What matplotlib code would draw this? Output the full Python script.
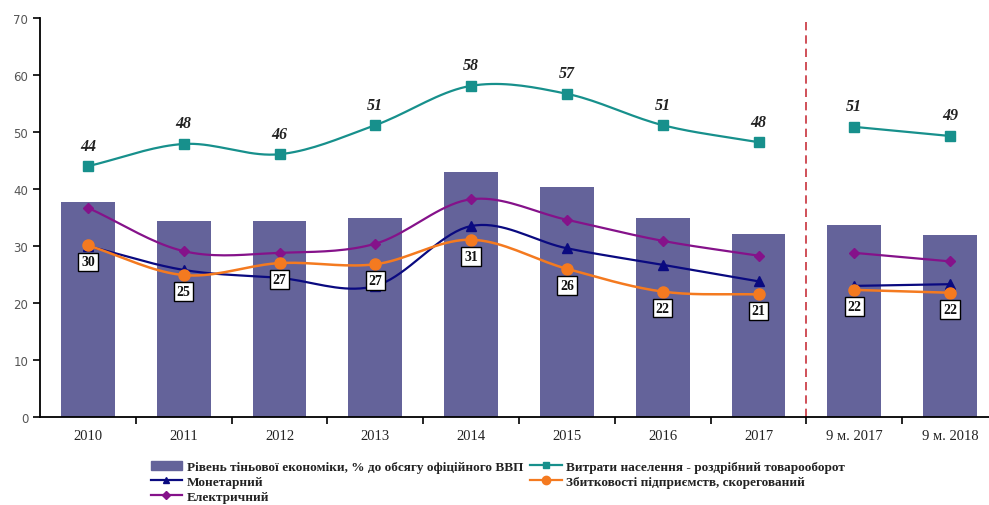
import numpy as np
import matplotlib.pyplot as plt
from matplotlib.lines import Line2D
from matplotlib.patches import Patch

categories = ['2010', '2011', '2012', '2013', '2014', '2015', '2016', '2017', '9 м. 2017', '9 м. 2018']
shadow = [37.7, 34.4, 34.4, 35.0, 43.0, 40.3, 35.0, 32.1, 33.6, 31.9]
spending = [44.0, 47.9, 46.1, 51.2, 58.1, 56.7, 51.2, 48.2, 50.9, 49.3]
spending_lbl = [44, 48, 46, 51, 58, 57, 51, 48, 51, 49]
monetary = [30.0, 25.8, 24.4, 23.0, 33.5, 29.6, 26.7, 23.8, 23.0, 23.3]
losses = [30.1, 24.9, 27.0, 26.8, 31.1, 26.0, 22.0, 21.5, 22.3, 21.8]
losses_lbl = [30, 25, 27, 27, 31, 26, 22, 21, 22, 22]
electric = [36.7, 29.1, 28.8, 30.4, 38.2, 34.6, 30.9, 28.3, 28.8, 27.3]

BAR = '#64639a'
TEAL = '#17908c'
NAVY = '#0a0a80'
ORANGE = '#f47a20'
PURPLE = '#85128a'
SERIF = 'Liberation Serif'


def smooth(xs, ys, n=20):
    # catmull-rom, roughly like Excel's smoothed lines
    xs = np.asarray(xs, float)
    ys = np.asarray(ys, float)
    if len(xs) < 3:
        return xs, ys
    px = np.concatenate([[2 * xs[0] - xs[1]], xs, [2 * xs[-1] - xs[-2]]])
    py = np.concatenate([[2 * ys[0] - ys[1]], ys, [2 * ys[-1] - ys[-2]]])
    ox, oy = [], []
    t = np.linspace(0, 1, n)
    for i in range(1, len(px) - 2):
        for p, out in ((px, ox), (py, oy)):
            p0, p1, p2, p3 = p[i - 1], p[i], p[i + 1], p[i + 2]
            out.extend(0.5 * ((2 * p1) + (-p0 + p2) * t
                              + (2 * p0 - 5 * p1 + 4 * p2 - p3) * t ** 2
                              + (-p0 + 3 * p1 - 3 * p2 + p3) * t ** 3))
    return np.array(ox), np.array(oy)


fig = plt.figure(figsize=(9.89, 5.06), dpi=100)
ax = fig.add_axes([40 / 989, 88 / 506, 958 / 989, 399 / 506])

x = np.arange(len(categories))
ax.bar(x, shadow, width=0.56, color=BAR, zorder=1)

segments = [slice(0, 8), slice(8, 10)]
series = [
    (spending, TEAL, 's', 7, 1.6),
    (electric, PURPLE, 'D', 5, 1.6),
    (monetary, NAVY, '^', 7, 1.6),
    (losses, ORANGE, 'o', 8, 1.8),
]
for vals, col, mk, ms, lw in series:
    v = np.array(vals)
    for sl in segments:
        sx, sy = smooth(x[sl], v[sl])
        ax.plot(sx, sy, color=col, lw=lw, zorder=3)
        ax.plot(x[sl], v[sl], ls='none', marker=mk, ms=ms, color=col, zorder=4)

for xi, yi, lab in zip(x, spending, spending_lbl):
    ax.text(xi, yi + 2.2, str(lab), ha='center', va='bottom', fontsize=11.5,
            family=SERIF, style='italic', weight='bold', color='#222222', zorder=5)

for xi, yi, lab in zip(x, losses, losses_lbl):
    ax.text(xi, yi - 2.9, str(lab), ha='center', va='center', fontsize=10,
            family=SERIF, weight='bold', color='#111111', zorder=5,
            bbox=dict(boxstyle='square,pad=0.2', fc='white', ec='black', lw=1.0))

ax.axvline(7.5, color='#c8323c', ls=(0, (5, 3)), lw=1.2, zorder=2)

ax.set_xlim(-0.5, 9.5)
ax.set_ylim(0, 70)
ax.set_yticks(range(0, 71, 10))
ax.set_xticks(x)
ax.set_xticklabels(categories, family=SERIF, fontsize=10.5, color='#222222')
ax.set_xticks(np.arange(0.5, 9.5, 1), minor=True)
ax.tick_params(axis='x', which='major', length=0, pad=9)
ax.tick_params(axis='x', which='minor', length=5, width=1.2, direction='out')
ax.tick_params(axis='y', labelsize=8.5, labelcolor='#555555', length=5, width=1.2)
for s in ('top', 'right'):
    ax.spines[s].set_visible(False)
for s in ('left', 'bottom'):
    ax.spines[s].set_linewidth(1.3)

# column-wise fill order so rows read: bars | teal, navy | orange, purple
handles = [
    Patch(color=BAR, label='Рівень тіньової економіки, % до обсягу офіційного ВВП'),
    Line2D([], [], color=NAVY, marker='^', ms=5, lw=1.6, label='Монетарний'),
    Line2D([], [], color=PURPLE, marker='D', ms=4, lw=1.6, label='Електричний'),
    Line2D([], [], color=TEAL, marker='s', ms=5, lw=1.6, label='Витрати населення - роздрібний товарооборот'),
    Line2D([], [], color=ORANGE, marker='o', ms=6, lw=1.6, label='Збитковості підприємств, скорегований'),
]
fig.legend(handles=handles, ncol=2, loc='upper left', bbox_to_anchor=(144 / 989, 1 - 455 / 506),
           frameon=False, prop={'family': SERIF, 'size': 9.5, 'weight': 'bold'},
           handlelength=2.4, handletextpad=0.35, columnspacing=0.5, labelspacing=0.2,
           borderpad=0, labelcolor='#222222')

fig.savefig('out.png', dpi=100)
